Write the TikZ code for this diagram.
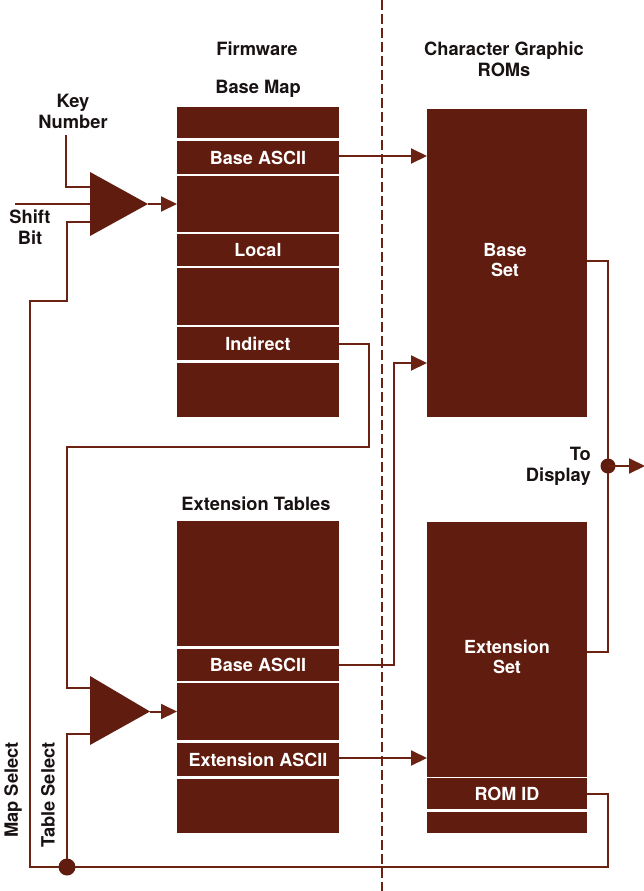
\documentclass[tikz,border=0pt]{standalone}
\usepackage{fontspec}
\setmainfont{TeX Gyre Heros}
\usetikzlibrary{arrows.meta}
\definecolor{blk}{RGB}{96,28,14}
\definecolor{wire}{RGB}{108,34,18}
\definecolor{ink}{RGB}{25,18,18}
\tikzset{
  blockrow/.style={fill=blk, draw=none, inner sep=0pt, outer sep=0pt, minimum width=162pt,
    text=white, font=\fontsize{18}{20}\selectfont\bfseries},
  romblock/.style={blockrow, minimum width=160pt},
  lbl/.style={text=ink, font=\fontsize{18.3}{21}\selectfont\bfseries, align=center, inner sep=0pt},
  inlbl/.style={text=white, font=\fontsize{18}{20.5}\selectfont\bfseries, align=center, inner sep=0pt},
  wireline/.style={draw=wire, line width=2pt},
  arr/.style={wireline, -{Triangle[length=16pt,width=15pt]}},
  amp/.style={fill=blk},
  junct/.style={circle, fill=blk, inner sep=0pt, minimum size=16pt},
}
\begin{document}
\begin{tikzpicture}[x=1pt,y=-1pt]
\useasboundingbox (0,0) rectangle (643,891);
% dashed separator
\coordinate (dtop) at (382,0);
\coordinate (dbot) at (382,891);
\draw[wire, line width=1.6pt, dash pattern=on 10pt off 4pt] (dtop) -- (dbot);

% titles
\node[lbl] (firm) at (257,49) {Firmware};
\node[lbl] (bmap) at (258,89) {Base Map};
\node[lbl] (cgr) at (504,59) {Character Graphic\\ROMs};
\node[lbl] (extt) at (256,504) {Extension Tables};

% base map
\node[blockrow, minimum height=31pt] (r1) at (258,122.5) {};
\node[blockrow, minimum height=33pt] (r2) at (258,157.5) {Base ASCII};
\node[blockrow, minimum height=56pt] (r3) at (258,204) {};
\node[blockrow, minimum height=32pt] (r4) at (258,250) {Local};
\node[blockrow, minimum height=57pt] (r5) at (258,296.5) {};
\node[blockrow, minimum height=33pt] (r6) at (258,343.5) {Indirect};
\node[blockrow, minimum height=54pt] (r7) at (258,390) {};

% extension tables
\node[blockrow, minimum height=125pt] (e1) at (258,583.5) {};
\node[blockrow, minimum height=32pt] (e2) at (258,665) {Base ASCII};
\node[blockrow, minimum height=57pt] (e3) at (258,711.5) {};
\node[blockrow, minimum height=33pt] (e4) at (258,759.5) {Extension ASCII};
\node[blockrow, minimum height=54pt] (e5) at (258,806) {};

% ROMs
\node[romblock, minimum height=308pt] (bset) at (507,263) {};
\node[inlbl] (bsetl) at (505,260) {Base\\Set};
\node[romblock, minimum height=255pt] (xset) at (507,649) {};
\node[inlbl] (xsetl) at (507,657) {Extension\\Set};
\node[romblock, minimum height=31pt] (romid) at (507,793.5) {ROM ID};
\node[romblock, minimum height=21pt] (rlast) at (507,822.5) {};

% amplifier 1
\coordinate (a1t) at (90,172);
\coordinate (a1b) at (90,236);
\coordinate (a1tip) at (148,204);
\fill[amp] (a1t) -- (a1tip) -- (a1b) -- cycle;
\coordinate (a1in1) at (90,187);
\coordinate (a1in2) at (90,204);
\coordinate (a1in3) at (90,222);
% amplifier 2
\coordinate (a2t) at (90,676);
\coordinate (a2b) at (90,745);
\coordinate (a2tip) at (150,711.5);
\fill[amp] (a2t) -- (a2tip) -- (a2b) -- cycle;
\coordinate (a2in1) at (90,688);
\coordinate (a2in2) at (90,734);

% inputs
\node[lbl] (keyl) at (73,111) {Key\\Number};
\node[lbl] (shiftl) at (30,227) {Shift\\Bit};
\coordinate (keytop) at (66,135);
\coordinate (shiftst) at (15,204);
\draw[wireline] (keytop) |- (a1in1);
\draw[wireline] (shiftst) -- (a1in2);

% amp outputs
\draw[arr] (a1tip) -- (r3.west);
\draw[arr] (a2tip) -- (e3.west);

% base ascii -> base set
\draw[arr] (r2.east |- 0,156) -- (bset.west |- 0,156);
% indirect -> amp2
\draw[wireline] (r6.east) -- (369,343.5) -- (369,447) -- (67,447) |- (a2in1);
% ext base ascii -> base set
\draw[arr] (e2.east) -- (394,665) -- (394,363) -- (bset.west |- 0,363);
% ext ascii -> ext set
\draw[arr] (e4.east |- 0,758) -- (xset.west |- 0,758);

% outputs to display
\coordinate (dispj) at (608,466);
\coordinate (dispend) at (645,466);
\draw[wireline] (bset.east |- 0,261) -| (dispj) |- (xset.east |- 0,652);
\node[junct, minimum size=15pt] (dj) at (dispj) {};
\draw[arr] (dj.center) -- (dispend);
\node[lbl, align=right, anchor=east] (tod) at (591,466) {To\\Display};

% ROM ID -> selects
\coordinate (selj) at (67,867);
\draw[wireline] (romid.east) -- (608,793.5) |- (30,867) -- (30,301) -- (67,301) |- (a1in3);
\draw[wireline] (selj) |- (a2in2);
\node[junct, minimum size=17pt] (sj) at (selj) {};
\node[lbl, rotate=90] (mapsel) at (13,790) {Map Select};
\node[lbl, rotate=90] (tabsel) at (48,795) {Table Select};
\end{tikzpicture}
\end{document}
